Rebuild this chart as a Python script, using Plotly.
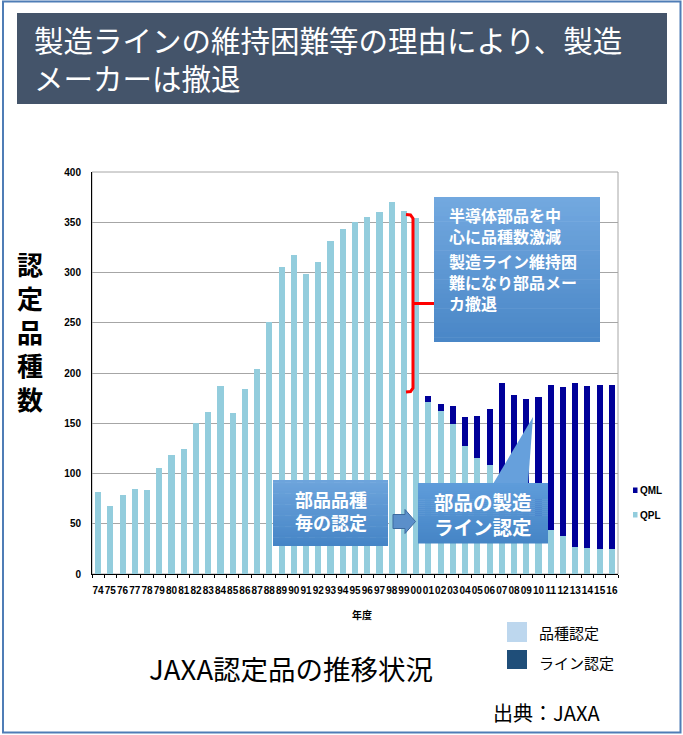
import plotly.graph_objects as go

# ---------------- data ----------------
years = ["74", "75", "76", "77", "78", "79", "80", "81", "82", "83", "84", "85", "86",
         "87", "88", "89", "90", "91", "92", "93", "94", "95", "96", "97", "98", "99",
         "00", "01", "02", "03", "04", "05", "06", "07", "08", "09", "10", "11", "12",
         "13", "14", "15", "16"]
qpl = [82, 68, 79, 85, 84, 105, 118, 124, 150, 161, 187, 160, 184,
       204, 251, 305, 317, 299, 310, 331, 343, 350, 355, 360, 370, 361,
       354, 171, 162, 149, 127, 115, 108, 95, 80, 68, 55, 44, 38,
       27, 26, 25, 25]
qml = [0, 0, 0, 0, 0, 0, 0, 0, 0, 0, 0, 0, 0,
       0, 0, 0, 0, 0, 0, 0, 0, 0, 0, 0, 0, 0,
       0, 6, 7, 18, 29, 42, 56, 95, 98, 106, 121, 144, 148,
       163, 161, 163, 163]
y_ticks = [0, 50, 100, 150, 200, 250, 300, 350, 400]

# ---------------- layout helpers ----------------
FIG_W, FIG_H = 683, 735
L, R, T, B = 92, 618, 172, 574
W, H = R - L, B - T
CJK = "Noto Sans CJK JP, Noto Sans, sans-serif"
LAT = "Liberation Sans, Arial, sans-serif"


def px(x):
    return (x - L) / W


def py(y):
    return (B - y) / H


fig = go.Figure()
fig.add_bar(x=years, y=qpl, name="QPL", marker=dict(color="#93cddd", line=dict(width=0)))
fig.add_bar(x=years, y=qml, name="QML", marker=dict(color="#000099", line=dict(width=0)))

fig.update_layout(
    width=FIG_W, height=FIG_H,
    margin=dict(l=L, r=FIG_W - R, t=T, b=FIG_H - B, pad=0),
    barmode="stack", bargap=0.5,
    showlegend=False,
    paper_bgcolor="white", plot_bgcolor="white",
    font=dict(family=LAT),
)
fig.update_xaxes(
    type="category", showline=True, linecolor="black", linewidth=1,
    ticks="outside", ticklen=3, tickcolor="black", tickson="boundaries",
    tickangle=0, showgrid=False,
    tickfont=dict(family=LAT, size=10, color="black", weight="bold"),
    ticklabelstandoff=7,
)
fig.update_yaxes(
    range=[0, 400], tickvals=y_ticks, showline=True, linecolor="black", linewidth=1,
    showgrid=True, gridcolor="#a6a6a6", gridwidth=1, zeroline=False, ticks="",
    tickfont=dict(family=LAT, size=10, color="black", weight="bold"),
    ticklabelstandoff=8,
)

shapes = []
annotations = []


def rect(x0, y0, x1, y1, fill=None, line_color=None, lw=0, layer="above"):
    shapes.append(dict(
        type="rect", xref="paper", yref="paper",
        x0=px(x0), x1=px(x1), y0=py(y1), y1=py(y0),
        fillcolor=fill if fill else "rgba(0,0,0,0)",
        line=dict(color=line_color if line_color else "rgba(0,0,0,0)", width=lw),
        layer=layer,
    ))


def hex2rgb(h):
    h = h.lstrip("#")
    return tuple(int(h[i:i + 2], 16) for i in (0, 2, 4))


def grad_rect(x0, y0, x1, y1, c_top, c_bot, n=30):
    a, b = hex2rgb(c_top), hex2rgb(c_bot)
    for i in range(n):
        ya = y0 + (y1 - y0) * i / n
        yb = y0 + (y1 - y0) * (i + 1) / n + (0.6 if i < n - 1 else 0)
        t = i / (n - 1)
        c = "rgb(%d,%d,%d)" % tuple(round(a[k] + (b[k] - a[k]) * t) for k in range(3))
        rect(x0, ya, x1, yb, fill=c)


def path(points, fill=None, line_color=None, lw=0, closed=True):
    d = "M " + " L ".join("%f,%f" % (px(x), py(y)) for x, y in points)
    if closed:
        d += " Z"
    shapes.append(dict(
        type="path", xref="paper", yref="paper", path=d,
        fillcolor=fill if fill else "rgba(0,0,0,0)",
        line=dict(color=line_color if line_color else "rgba(0,0,0,0)", width=lw),
        layer="above",
    ))


def ann(text, x, y, size, color="black", bold=False, xanchor="center", family=CJK, align="center"):
    annotations.append(dict(
        text=text, xref="paper", yref="paper", x=px(x), y=py(y),
        xanchor=xanchor, yanchor="middle", showarrow=False, align=align,
        font=dict(family=family, size=size, color=color, weight="bold" if bold else "normal"),
    ))


# plot-area frame (gray top/right)
shapes.append(dict(type="rect", xref="paper", yref="paper", x0=0, x1=1, y0=0, y1=1,
                   line=dict(color="#a6a6a6", width=1), layer="below"))

# outer border
rect(3, 1.5, 680.5, 732.5, line_color="#4f7db6", lw=2)

# header
rect(17, 13, 667, 104, fill="#44546a")
ann("製造ラインの維持困難等の理由により、製造<br>メーカーは撤退", 32, 58, 29.5,
    color="white", xanchor="left", align="left")

# y-axis title
ann("認<br>定<br>品<br>種<br>数", 30, 331, 26, bold=True)

# x-axis title
ann("年度", 362, 614, 10, bold=True)

# right legend (QML / QPL)
rect(633, 487.5, 637.5, 493, fill="#000099")
ann("QML", 637.5, 490.5, 10, bold=True, xanchor="left", family=LAT)
rect(633, 512, 637.5, 517.5, fill="#93cddd")
ann("QPL", 637.5, 515, 10, bold=True, xanchor="left", family=LAT)

# red bracket
path([(406, 214.5), (410.5, 215), (413, 218.5), (413, 388), (410.5, 391.5), (406, 392)],
     line_color="#ff0000", lw=3, closed=False)
path([(413, 303.5), (436, 303.5)], line_color="#ff0000", lw=3, closed=False)

# big callout
grad_rect(434, 197, 600, 342, "#72a8df", "#4a87c7")
ann("半導体部品を中<br>心に品種数激減", 447, 225.5, 16, color="white", bold=True,
    xanchor="left", align="left")
ann("製造ライン維持困<br>難になり部品メー<br>カ撤退", 447, 281.5, 16, color="white", bold=True,
    xanchor="left", align="left")

# callout: 部品品種毎の認定
grad_rect(273, 480, 388, 546, "#6da4dc", "#4685c6")
ann("部品品種<br>毎の認定", 330.5, 510, 18, color="white", bold=True)

# block arrow
path([(393, 514.5), (405, 514.5), (405, 509.5), (415.5, 521.5), (405, 533.5), (405, 528.5), (393, 528.5)],
     fill="#5b8fca", line_color="#3d6a9e", lw=1)

# callout: 部品の製造ライン認定 with pointer
path([(493, 484), (533, 417), (528, 484)], fill="#66a0dc")
grad_rect(418, 483, 548, 543.5, "#5e9cda", "#4685c6")
ann("部品の製造<br>ライン認定", 483, 514, 19.5, color="white", bold=True)

# bottom legend
rect(507, 622, 527, 642, fill="#bdd7ee")
ann("品種認定", 537, 632, 15, xanchor="left")
rect(507, 650, 527, 669, fill="#1f4e79")
ann("ライン認定", 537, 662, 15, xanchor="left")

# captions
ann("JAXA認定品の推移状況", 291, 668, 27.5)
ann("出典：JAXA", 546, 712, 20)

fig.update_layout(shapes=shapes, annotations=annotations)
fig.write_html("out.html", config={"displayModeBar": False},
               post_script="document.body.style.margin='0';")
